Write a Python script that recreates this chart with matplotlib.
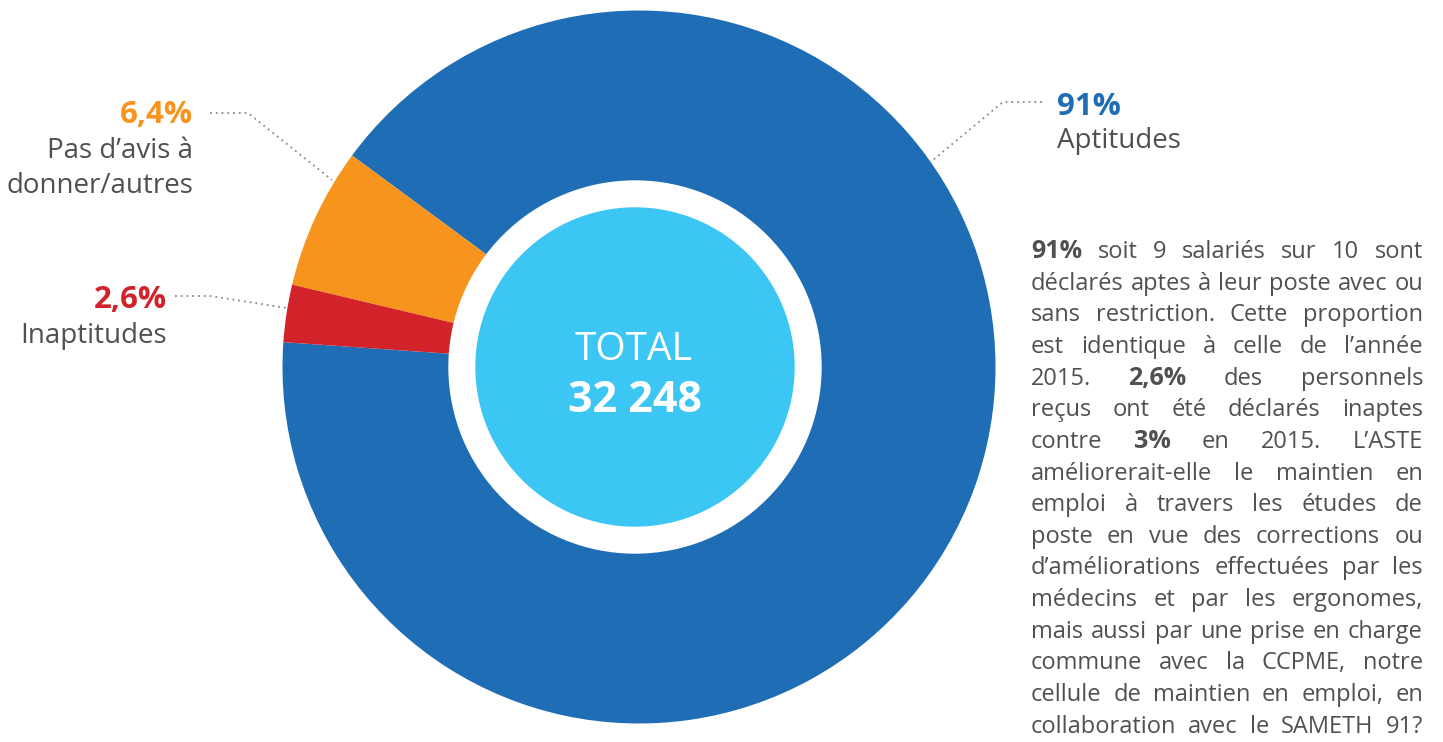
import matplotlib
matplotlib.use('Agg')
from matplotlib import pyplot as plt

# data
categories = ['Aptitudes', 'Pas d’avis à\ndonner/autres', 'Inaptitudes']
shares = [91, 6.4, 2.6]
share_labels = ['91%', '6,4%', '2,6%']
colors = ['#1f6db5', '#f7941d', '#d2232a']
total_title = 'TOTAL'
total_value = '32 248'

# paragraph lines, **word** = bold
paragraph = [
    '**91%** soit 9 salariés sur 10 sont',
    'déclarés aptes à leur poste avec ou',
    'sans restriction. Cette proportion',
    'est identique à celle de l’année',
    '2015. **2,6%** des personnels',
    'reçus ont été déclarés inaptes',
    'contre **3%** en 2015. L’ASTE',
    'améliorerait-elle le maintien en',
    'emploi à travers les études de',
    'poste en vue des corrections ou',
    'd’améliorations effectuées par les',
    'médecins et par les ergonomes,',
    'mais aussi par une prise en charge',
    'commune avec la CCPME, notre',
    'cellule de maintien en emploi, en',
    'collaboration avec le SAMETH 91?',
]

W, H = 1443, 742
FONT = 'Open Sans'
GRAY = '#505050'
DOTS = '#8a8a8a'


def py(y):
    # work in pixel rows from the top
    return H - y


fig = plt.figure(figsize=(W / 100, H / 100), dpi=100)
ax = fig.add_axes([0, 0, 1, 1])

ax.pie(shares, colors=colors, startangle=176, counterclock=True,
       radius=356.5, center=(639, py(367)), wedgeprops=dict(linewidth=0))
ax.add_patch(plt.Circle((635, py(367)), 186, color='white', zorder=3))
ax.add_patch(plt.Circle((635, py(367)), 159, color='#3bc6f4', zorder=4))
ax.set_xlim(0, W)
ax.set_ylim(0, H)
ax.set_aspect('equal')
ax.axis('off')

ax.text(634, py(360), total_title, ha='center', va='baseline', color='white',
        fontsize=28, family=FONT, zorder=5)
ax.text(635, py(412), total_value, ha='center', va='baseline', color='white',
        fontsize=31, fontweight='bold', family=FONT, zorder=5)

# label layout: x anchor, alignment, baselines of pct + text lines, leader path
label_x = [1057, 193, 167]
label_ha = ['left', 'right', 'right']
label_base = [[115, 148], [123, 158, 193], [308, 343]]
leaders = [
    [(1042, 102), (1003, 102), (933, 160)],
    [(210, 113), (248, 113), (332, 180)],
    [(175, 296), (210, 296), (287, 308)],
]

for i, name in enumerate(categories):
    base = label_base[i]
    ax.text(label_x[i], py(base[0]), share_labels[i], ha=label_ha[i], va='baseline',
            color=colors[i], fontsize=22.5, fontweight='bold', family=FONT)
    for line, b in zip(name.split('\n'), base[1:]):
        ax.text(label_x[i], py(b), line, ha=label_ha[i], va='baseline',
                color=GRAY, fontsize=20, family=FONT)
    xs = [p[0] for p in leaders[i]]
    ys = [py(p[1]) for p in leaders[i]]
    ax.plot(xs, ys, color=DOTS, lw=1.3, linestyle=(0, (1, 2.2)), zorder=6)

# justified paragraph on the right
renderer = fig.canvas.get_renderer()
x0, x1 = 1031, 1423
for k, line in enumerate(paragraph):
    y = py(258 + 31.65 * k)
    arts = []
    for w in line.split(' '):
        bold = w.startswith('**')
        t = ax.text(0, y, w.strip('*'), ha='left', va='baseline', color=GRAY,
                    fontsize=18 if bold else 17, fontweight='bold' if bold else 'normal',
                    family=FONT)
        arts.append(t)
    widths = [t.get_window_extent(renderer).width for t in arts]
    gap = (x1 - x0 - sum(widths)) / (len(arts) - 1)
    x = x0
    for t, wd in zip(arts, widths):
        t.set_x(x)
        x += wd + gap

fig.savefig('out.png', dpi=100)
